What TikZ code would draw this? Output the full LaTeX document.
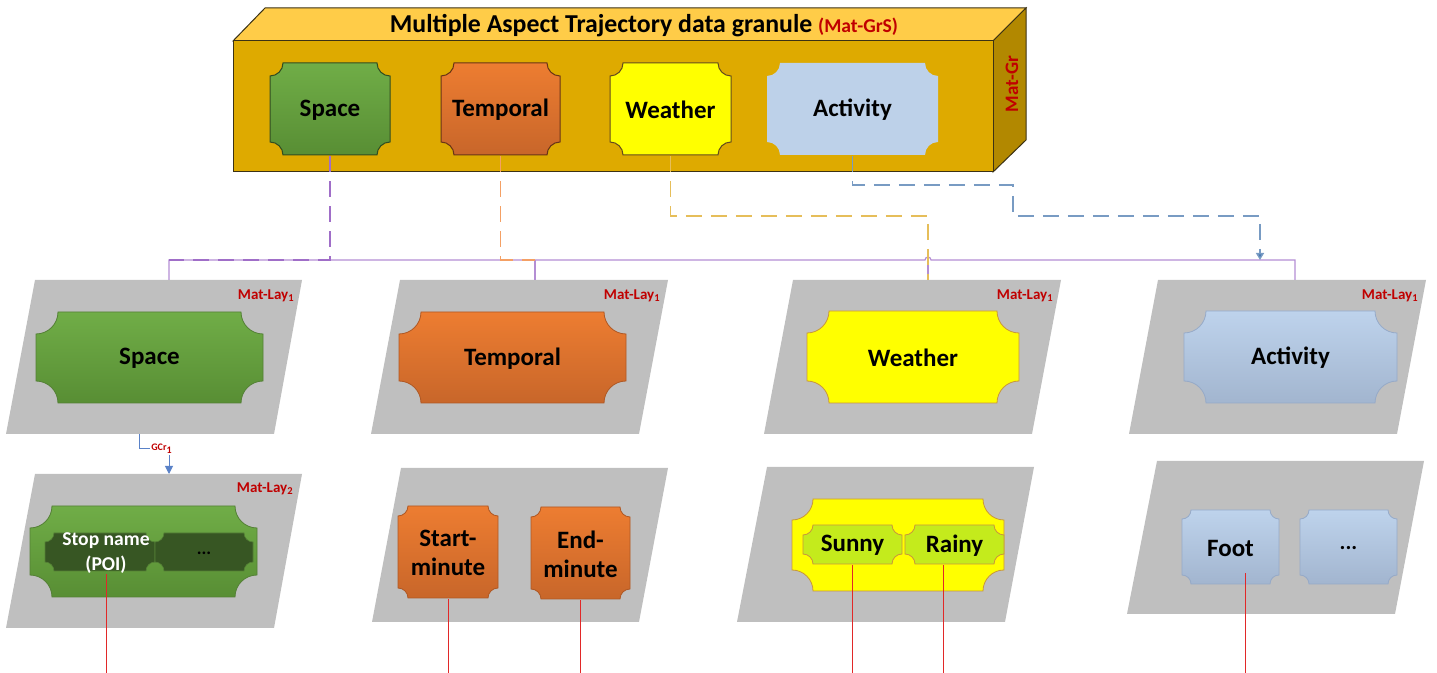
\documentclass[tikz,border=0pt]{standalone}
\usepackage{fontspec}
\setmainfont{Carlito}
\usetikzlibrary{arrows.meta,calc}
\definecolor{topF}{RGB}{255,204,72}
\definecolor{frontF}{RGB}{222,170,0}
\definecolor{sideF}{RGB}{178,136,0}
\definecolor{edgeC}{RGB}{60,50,20}
\definecolor{grayL}{RGB}{191,191,191}
\definecolor{gA}{RGB}{112,173,71}
\definecolor{gB}{RGB}{88,142,52}
\definecolor{gE}{RGB}{84,128,54}
\definecolor{oA}{RGB}{237,125,49}
\definecolor{oB}{RGB}{200,102,42}
\definecolor{oE}{RGB}{175,88,36}
\definecolor{yF}{RGB}{255,255,0}
\definecolor{yE}{RGB}{200,150,60}
\definecolor{cbA}{RGB}{190,211,236}
\definecolor{cbB}{RGB}{162,181,207}
\definecolor{cbE}{RGB}{150,170,200}
\definecolor{cbT}{RGB}{189,209,233}
\definecolor{dkG}{RGB}{55,86,35}
\definecolor{limeC}{RGB}{196,235,28}
\definecolor{matRed}{RGB}{192,0,0}
\definecolor{busC}{RGB}{180,142,212}
\definecolor{spD}{RGB}{160,110,200}
\definecolor{tpD}{RGB}{244,160,100}
\definecolor{weD}{RGB}{230,190,90}
\definecolor{acD}{RGB}{120,155,195}
\definecolor{arrC}{RGB}{70,120,180}
\definecolor{redL}{RGB}{225,40,40}
\definecolor{gcrC}{RGB}{90,130,200}
\tikzset{
  facebox/.style={draw=edgeC,line width=0.5pt},
  layer/.style={fill=grayL},
  bt/.style={font=\bfseries\fontsize{12.5}{14.5}\selectfont},
  mlab/.style={font=\bfseries\fontsize{7.5}{8}\selectfont,text=matRed,anchor=east,inner sep=0pt},
  grn/.style={top color=gA,bottom color=gB,draw=gE,line width=0.4pt},
  grnT/.style={top color=gA,bottom color=gB,draw=gE!60!black,line width=0.5pt},
  org/.style={top color=oA,bottom color=oB,draw=oE,line width=0.4pt},
  orgT/.style={top color=oA,bottom color=oB,draw=oE!60!black,line width=0.5pt},
  yel/.style={fill=yF,draw=yE,line width=0.4pt},
  yelT/.style={fill=yF,draw=yE!50!black,line width=0.5pt},
  blu/.style={top color=cbA,bottom color=cbB,draw=cbE,line width=0.4pt},
  bus/.style={draw=busC,line width=0.6pt},
  dsh/.style={line width=0.7pt,dash pattern=on 8pt off 4.5pt},
  redl/.style={draw=redL,line width=0.5pt},
}
% #1 path style, #2 name, #3 x1, #4 y1, #5 x2, #6 y2, #7 corner radius, #8 node style, #9 text
\newcommand\plaque[9]{%
  \path[#1] (#3+#7,#4) -- (#5-#7,#4) arc[start angle=180,end angle=90,radius=#7]
    -- (#5,#6-#7) arc[start angle=270,end angle=180,radius=#7]
    -- (#3+#7,#6) arc[start angle=0,end angle=-90,radius=#7]
    -- (#3,#4+#7) arc[start angle=90,end angle=0,radius=#7] -- cycle;
  \pgfmathsetmacro\plw{(#5-#3)*0.5}\pgfmathsetmacro\plh{(#6-#4)*0.5}%
  \node[inner sep=0pt,minimum width=\plw pt,minimum height=\plh pt,align=center,#8] (#2) at ({(#3+#5)/2},{(#4+#6)/2+1}) {#9};
}
\begin{document}
\begin{tikzpicture}[x=0.5pt,y=-0.5pt]
\useasboundingbox (0,0) rectangle (1437,673);
% ---------- granule box ----------
\filldraw[facebox,fill=topF] (233,41) -- (265,8) -- (1026,8) -- (993,41) -- cycle;
\filldraw[facebox,fill=sideF] (993,41) -- (1026,8) -- (1026,140) -- (993,172) -- cycle;
\filldraw[facebox,fill=frontF] (233,41) rectangle (993,172);
\node[font=\bfseries\fontsize{12.9}{14}\selectfont] (title) at (644,26) {Multiple Aspect Trajectory data granule {\color{matRed}\fontsize{9.8}{10}\selectfont(Mat-GrS)}};
\node[rotate=90,font=\bfseries\fontsize{9.5}{10}\selectfont,text=matRed] (matgr) at (1012,84) {Mat-Gr};
\plaque{grnT}{spT}{270}{63}{390}{155}{13}{bt}{Space}
\plaque{orgT}{tpT}{441}{63}{560}{155}{13}{bt}{Temporal}
\plaque{yelT}{weT}{610}{63}{731}{155}{13}{bt}{Weather}
\plaque{fill=cbT}{acT}{767}{63}{938}{155}{13}{bt}{Activity}
% ---------- layer 1 ----------
\fill[layer] (35,280) -- (302,280) -- (274,434) -- (6,434) -- cycle;
\fill[layer] (400,280) -- (668,280) -- (639,434) -- (371,434) -- cycle;
\fill[layer] (793,280) -- (1061,280) -- (1032,434) -- (764,434) -- cycle;
\fill[layer] (1158,280) -- (1426,280) -- (1397,434) -- (1129,434) -- cycle;
\node[mlab] (ml1a) at (295,296) {Mat-Lay\textsubscript{1}};
\node[mlab] (ml1b) at (661,296) {Mat-Lay\textsubscript{1}};
\node[mlab] (ml1c) at (1054,296) {Mat-Lay\textsubscript{1}};
\node[mlab] (ml1d) at (1419,296) {Mat-Lay\textsubscript{1}};
\plaque{grn}{sp1}{36}{312}{263}{403}{22}{bt}{Space}
\plaque{org}{tp1}{399}{312}{626}{403}{22}{bt}{Temporal}
\plaque{yel}{we1}{807}{311}{1019}{403}{22}{bt}{Weather}
\plaque{blu}{ac1}{1184}{311}{1397}{403}{22}{bt}{Activity}
% ---------- layer 2 ----------
\fill[layer] (35,474) -- (302,474) -- (274,628) -- (6,628) -- cycle;
\fill[layer] (401,468) -- (668,468) -- (639,622) -- (372,622) -- cycle;
\fill[layer] (767,467) -- (1034,467) -- (1005,622) -- (737,622) -- cycle;
\fill[layer] (1157,461) -- (1424,461) -- (1395,614) -- (1127,614) -- cycle;
\node[mlab] (ml2a) at (294,489) {Mat-Lay\textsubscript{2}};
\plaque{grn}{sp2}{30}{506}{257}{597}{22}{}{}
\plaque{fill=dkG,draw=gE,line width=0.3pt}{stp}{45}{533}{155}{571}{9}{font=\bfseries\fontsize{9.8}{12.5}\selectfont,text=white,xshift=3pt}{Stop name\\(POI)}
\plaque{fill=dkG,draw=gE,line width=0.3pt}{dts}{155}{533}{253}{571}{9}{font=\bfseries\fontsize{9}{10}\selectfont}{...}
\plaque{org}{sm}{398}{506}{498}{598}{10}{font=\bfseries\fontsize{12.5}{14.5}\selectfont}{Start-\\minute}
\plaque{org}{em}{531}{507}{630}{599}{10}{font=\bfseries\fontsize{12.5}{14.5}\selectfont}{End-\\minute}
\plaque{yel}{we2}{792}{499}{1004}{591}{21}{}{}
\plaque{fill=limeC,draw=yE,line width=0.4pt}{sn}{803}{525}{902}{564}{10}{bt}{Sunny}
\plaque{fill=limeC,draw=yE,line width=0.4pt}{rn}{905}{525}{1004}{564}{10}{bt}{Rainy}
\plaque{blu}{ft}{1182}{510}{1279}{584}{9}{bt}{Foot}
\plaque{blu}{dtf}{1300}{510}{1397}{584}{9}{font=\bfseries\fontsize{11}{12}\selectfont}{...}
% ---------- bus and connectors ----------
\coordinate (tA) at (169,280); \coordinate (tB) at (535,280);
\coordinate (tC) at (928,280); \coordinate (tD) at (1295,280);
\coordinate (bA) at (169,260); \coordinate (bB) at (535,260);
\coordinate (bC) at (928,260); \coordinate (bD) at (1295,260);
\coordinate (bS) at (330,260);
\draw[bus] (tA) -- (bA) -- (925,260) arc[start angle=180,end angle=360,radius=3] -- (bD) -- (tD);
\draw[bus] (bB) -- (tB);
\draw[bus] (bC) -- (tC);
\coordinate (wc) at (928,216);
\coordinate (a1) at (1013,185);
\coordinate (a2) at (1260,216);
\coordinate (aE) at (1260,260);
\draw[dsh,draw=spD] (spT.south) -- (bS) -- (bA);
\draw[dsh,draw=tpD] (tpT.south) |- (bB);
\draw[dsh,draw=weD] (weT.south) |- (wc) -- (tC);
\draw[dsh,draw=acD,-{Triangle[width=4pt,length=3.5pt,fill=arrC]}] (acT.south) |- (a1) |- (a2) -- (aE);
% GCr
\coordinate (g0) at (139,434);
\coordinate (g2) at (169,474);
\node[font=\bfseries\fontsize{5}{6}\selectfont,text=matRed,inner sep=0.5pt] (gl) at (162,449) {GCr\textsubscript{1}};
\draw[draw=gcrC,line width=0.5pt] (g0) |- (gl.west);
\draw[draw=gcrC,line width=0.5pt,-{Triangle[width=4pt,length=4pt]}] (g2 |- gl.south) -- (g2);
% red lines
\coordinate (r1) at (106,673); \coordinate (r2) at (448,673);
\coordinate (r3) at (580.5,673); \coordinate (r4) at (852.5,673);
\coordinate (r5) at (943,673); \coordinate (r6) at (1245.5,673);
\draw[redl] (stp.south) -- (r1);
\draw[redl] (sm.south) -- (r2);
\draw[redl] (em.south) -- (r3);
\draw[redl] (sn.south) -- (r4);
\draw[redl] ([xshift=-5.75pt]rn.south) -- (r5);
\draw[redl] ([xshift=7.5pt,yshift=6pt]ft.south) -- (r6);
\end{tikzpicture}
\end{document}
